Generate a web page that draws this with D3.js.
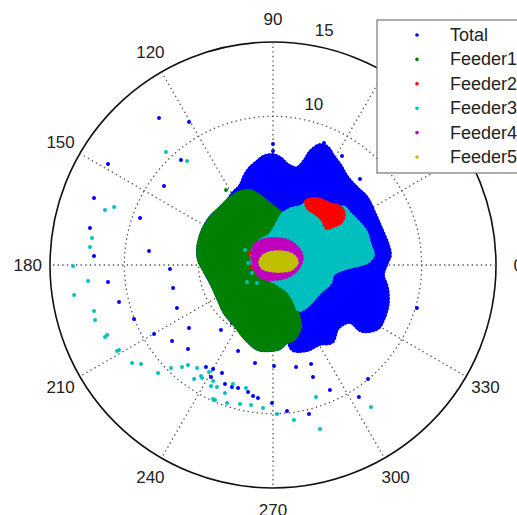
<!DOCTYPE html>
<html>
<head>
<meta charset="utf-8">
<script src="https://cdn.jsdelivr.net/npm/d3@7"></script>
<style>
  body { margin: 0; background: #fff; }
  text { font-family: "Liberation Sans", Arial, sans-serif; fill: #222; }
</style>
</head>
<body>
<div class="canvas"></div>
<script>
// polar grid ticks
const angleTicks = [0, 30, 60, 90, 120, 150, 180, 210, 240, 270, 300, 330];
const radiusTicks = [5, 10, 15];
const seriesNames = ['Total', 'Feeder1', 'Feeder2', 'Feeder3', 'Feeder4', 'Feeder5'];
const seriesColors = ['#0000ff', '#008000', '#ff0000', '#00bfbf', '#bf00bf', '#bfbf00'];

// dense clouds, outline of each (x, y components of rho)
const totalCloud = [[-2.69,4.84],[-2.22,5.31],[-1.88,6.05],[-1.55,6.52],[-1.08,6.93],[-0.67,7.26],[-0.07,7.40],
  [0.47,7.20],[1.01,6.72],[1.61,6.52],[2.15,7.06],[2.49,7.60],[3.16,8.07],[3.63,7.94],[4.10,7.26],[4.51,6.72],
  [4.98,5.92],[5.65,5.18],[6.32,4.51],[6.79,3.56],[7.26,2.49],[7.73,1.34],[7.87,0.67],[7.60,0],[7.40,-0.67],
  [7.67,-1.55],[7.73,-2.56],[7.46,-3.56],[7.06,-4.24],[5.99,-4.44],[5.18,-3.83],[4.37,-4.24],[3.97,-5.18],
  [3.16,-5.31],[2.29,-5.72],[1.34,-5.72],[0.94,-5.11],[0.47,-5.58],[-0.20,-5.72],[-1.01,-5.65],[-1.88,-4.91],
  [-2.56,-4.03],[-3.23,-3.23],[-3.70,-2.22],[-4.10,-1.34],[-4.57,-0.47],[-4.98,0.34],[-5.04,1.14],[-4.77,2.22],
  [-4.24,3.16],[-3.56,3.83],[-3.03,4.37]];
const feeder1Cloud = [[-3.03,4.37],[-2.35,4.84],[-1.55,4.98],[-1.01,4.71],[-0.40,4.24],[0.27,3.70],[0.67,3.36],
  [0.34,2.89],[-0.20,2.02],[-0.87,1.61],[-1.21,0.67],[-1.01,-0.34],[-0.40,-0.87],[0.27,-1.28],[0.94,-1.75],
  [1.34,-2.35],[1.68,-3.36],[1.82,-4.17],[1.34,-5.04],[0.94,-5.18],[0.47,-5.58],[-0.20,-5.72],[-1.01,-5.65],
  [-1.88,-4.91],[-2.56,-4.03],[-3.23,-3.23],[-3.70,-2.22],[-4.10,-1.34],[-4.57,-0.47],[-4.98,0.34],[-5.04,1.14],
  [-4.77,2.22],[-4.24,3.16],[-3.56,3.83]];
const feeder2Cloud = [[2.22,4.30],[2.69,4.44],[3.23,4.37],[3.83,4.10],[4.51,3.90],[4.77,3.43],[4.57,2.89],
  [4.03,2.62],[3.63,2.49],[3.30,3.09],[2.82,3.50],[2.35,3.83]];
const feeder3Cloud = [[0.67,3.43],[1.28,3.77],[1.82,3.90],[2.35,4.17],[2.82,4.03],[3.50,3.83],[4.17,3.70],
  [4.71,3.90],[5.18,3.43],[5.72,2.89],[6.25,2.22],[6.52,1.34],[6.72,0.67],[6.32,0.20],[5.18,-0.13],[4.51,-0.34],
  [4.03,-0.61],[3.83,-1.21],[3.16,-1.82],[2.69,-2.35],[2.22,-2.82],[1.75,-3.03],[1.41,-2.35],[1.01,-1.75],
  [0.34,-1.28],[-0.40,-0.87],[-1.01,-0.47],[-1.41,0.20],[-1.34,1.01],[-0.87,1.61],[-0.20,2.02],[0.34,2.89]];
const feeder4Cloud = [[-1.21,1.34],[-0.54,1.68],[0.20,1.75],[1.14,1.55],[1.75,1.01],[1.95,0.47],[1.68,-0.20],
  [1.01,-0.74],[0.13,-0.94],[-0.67,-0.87],[-1.14,-0.40],[-1.34,0.34]];
const feeder5Cloud = [[-0.87,0.20],[-0.54,0.67],[0.34,0.87],[1.28,0.67],[1.61,0.20],[1.21,-0.27],[0.27,-0.40],
  [-0.67,-0.20]];

// scattered samples away from the clouds
const totalPoints = [[-7.67,9.89],[-5.65,9.62],[-6.19,7.06],[-11.10,6.79],[-7.33,5.31],[-12.04,4.51],[-8.94,3.16],
  [-12.31,2.49],[-8.34,0.94],[-12.04,0.61],[-6.93,-0.27],[-11.10,-1.14],[-6.72,-1.55],[-10.36,-2.49],
  [-6.46,-2.89],[-9.35,-3.63],[-2.76,-3.90],[-5.65,-4.24],[-3.50,-4.37],[-8.00,-4.64],[-6.79,-5.11],
  [-5.72,-5.65],[-2.35,-5.78],[-1.21,-6.59],[-4.51,-6.86],[-4.03,-6.99],[-4.17,-7.53],[-3.43,-7.26],
  [-3.23,-8.00],[-2.76,-8.20],[-2.35,-8.27],[-1.68,-8.54],[-1.34,-8.81],[-1.01,-8.94],[-0.07,-9.28],
  [0.07,-6.79],[1.55,-6.86],[2.56,-6.66],[2.69,-7.53],[6.39,-7.67],[3.83,-8.41],[5.78,-8.88],[0.94,-9.82],
  [2.42,-10.02],[9.68,-2.89],[0,8.14],[0,7.67],[3.43,8.20],[4.64,7.33],[5.85,5.78]];
const feeder1Points = [[-3.16,5.04]];
const feeder2Points = [[-1.55,0.81],[-1.41,0.47],[-1.41,-0.13],[-1.14,-0.34]];
const feeder3Points = [[-7.20,7.60],[-5.78,6.99],[-11.30,3.70],[-10.69,3.90],[-12.17,1.82],[-12.31,1.21],
  [-13.45,-0.07],[-12.44,-1.08],[-13.38,-2.02],[-12.04,-3.09],[-11.97,-3.70],[-11.30,-4.84],[-11.16,-4.71],
  [-10.49,-5.78],[-10.36,-5.72],[-9.48,-6.59],[-8.88,-6.66],[-7.73,-7.26],[-6.86,-6.93],[-6.12,-6.86],
  [-5.72,-6.72],[-5.11,-6.93],[-5.31,-7.67],[-4.84,-7.46],[-4.77,-7.60],[-4.30,-7.20],[-4.03,-7.80],
  [-4.17,-8.14],[-3.77,-8.20],[-2.69,-8.00],[-1.82,-8.27],[-3.23,-8.61],[-3.90,-9.08],[-4.03,-9.01],
  [-3.09,-9.28],[-2.22,-9.35],[-1.48,-9.41],[2.89,-8.88],[6.59,-9.55],[-0.67,-9.62],[0.27,-10.02],
  [1.41,-10.42],[3.16,-11.03],[-1.88,1.01],[-1.68,0.13],[-1.41,-0.54],[-1.08,-1.21],[-1.75,-1.14]];

const clouds = [totalCloud, feeder1Cloud, feeder2Cloud, feeder3Cloud, feeder4Cloud, feeder5Cloud];
const points = [totalPoints, feeder1Points, feeder2Points, feeder3Points, [], []];
// drawing order (feeder2 sits over feeder3)
const drawOrder = [0, 1, 3, 2, 4, 5];

const dims = { width: 517, height: 515, radius: 223 };
const cent = { x: 273, y: 265 };

const svg = d3.select('.canvas')
    .append('svg')
    .attr('width', dims.width)
    .attr('height', dims.height);

const graph = svg.append('g')
    .attr('transform', `translate(${cent.x}, ${cent.y})`);

const rScale = d3.scaleLinear().domain([0, 15]).range([0, dims.radius]);
const xScale = d3.scaleLinear().domain([-15, 15]).range([-dims.radius, dims.radius]);
const yScale = d3.scaleLinear().domain([-15, 15]).range([dims.radius, -dims.radius]);
const rad = a => a * Math.PI / 180;

// outer frame
graph.append('circle')
    .attr('r', rScale(15))
    .attr('fill', '#fff')
    .attr('stroke', '#111')
    .attr('stroke-width', 1.6);

// dotted rings and spokes
graph.selectAll('.ring')
    .data(radiusTicks.slice(0, -1))
    .enter().append('circle')
    .attr('r', d => rScale(d))
    .attr('fill', 'none')
    .attr('stroke', '#555')
    .attr('stroke-width', 1.3)
    .attr('stroke-dasharray', '1.4,3.2');

graph.selectAll('.spoke')
    .data(angleTicks.slice(0, 6))
    .enter().append('line')
    .attr('x1', d => rScale(15) * Math.cos(rad(d)))
    .attr('y1', d => -rScale(15) * Math.sin(rad(d)))
    .attr('x2', d => -rScale(15) * Math.cos(rad(d)))
    .attr('y2', d => rScale(15) * Math.sin(rad(d)))
    .attr('stroke', '#555')
    .attr('stroke-width', 1.3)
    .attr('stroke-dasharray', '1.4,3.2');

// angle labels at 1.1 * rmax
graph.selectAll('.alabel')
    .data(angleTicks)
    .enter().append('text')
    .attr('x', d => rScale(16.5) * Math.cos(rad(d)))
    .attr('y', d => -rScale(16.5) * Math.sin(rad(d)))
    .attr('text-anchor', 'middle')
    .attr('dominant-baseline', 'central')
    .style('font-size', '17px')
    .text(d => d);

// radius labels at 82 degrees
graph.selectAll('.rlabel')
    .data(radiusTicks)
    .enter().append('text')
    .attr('x', d => rScale(d + 0.25) * Math.cos(rad(82)))
    .attr('y', d => -rScale(d + 0.25) * Math.sin(rad(82)))
    .attr('dx', '0.6em')
    .attr('dy', '-0.25em')
    .style('font-size', '17px')
    .text(d => d);

const cloudLine = d3.line()
    .x(d => xScale(d[0]))
    .y(d => yScale(d[1]))
    .curve(d3.curveCatmullRomClosed);

drawOrder.forEach(i => {
    const g = graph.append('g');
    g.append('path')
        .attr('d', cloudLine(clouds[i]))
        .attr('fill', seriesColors[i])
        .attr('stroke', seriesColors[i])
        .attr('stroke-width', 2)
        .attr('stroke-linejoin', 'round');

    // grainy edge of the cloud
    g.append('path')
        .attr('d', cloudLine(clouds[i]))
        .attr('fill', 'none')
        .attr('stroke', seriesColors[i])
        .attr('stroke-width', 4)
        .attr('stroke-linecap', 'round')
        .attr('stroke-dasharray', '0.1,3.3');

    g.selectAll('.pt')
        .data(points[i])
        .enter().append('circle')
        .attr('cx', d => xScale(d[0]))
        .attr('cy', d => yScale(d[1]))
        .attr('r', 2)
        .attr('fill', seriesColors[i]);
});

// legend
const legendGroup = svg.append('g')
    .attr('transform', 'translate(377, 20)');

legendGroup.append('rect')
    .attr('width', 160)
    .attr('height', 153)
    .attr('fill', '#fff')
    .attr('stroke', '#777')
    .attr('stroke-width', 1.2);

const rows = legendGroup.selectAll('.row')
    .data(seriesNames)
    .enter().append('g')
    .attr('transform', (d, i) => `translate(0, ${15 + i * 24.4})`);

rows.append('circle')
    .attr('cx', 40)
    .attr('r', 1.8)
    .attr('fill', (d, i) => seriesColors[i]);

rows.append('text')
    .attr('x', 73)
    .attr('dominant-baseline', 'central')
    .style('font-size', '18px')
    .text(d => d);
</script>
</body>
</html>
